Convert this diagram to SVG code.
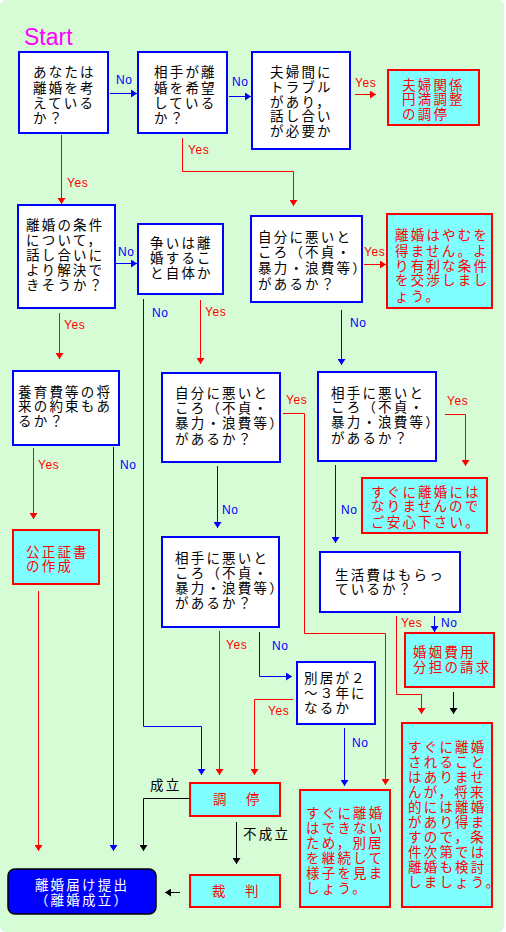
<svg xmlns="http://www.w3.org/2000/svg" width="506" height="932" viewBox="0 0 506 932">
<style>
.bg{fill:#d6fcd6}
text{font-family:"Noto Sans CJK JP","Noto Sans CJK SC",sans-serif;font-size:13.5px;letter-spacing:2.2px}
.q rect{fill:#ffffff;stroke:#0000ff;stroke-width:2}
.q text{fill:#000000}
.a rect{fill:#80ffff;stroke:#ff0000;stroke-width:2}
.a text{fill:#ff0000}
.lbl{font-family:"Liberation Sans",Arial,sans-serif;font-size:12px;letter-spacing:0.6px}
.ly{fill:#ff0000}
.ln{fill:#0000ff}
.lk{fill:#000000}
.c path{fill:none;stroke-width:1}
.c .r{stroke:#ff0000;marker-end:url(#mr)}
.c .b{stroke:#0000ff;marker-end:url(#mb)}
.c .k{stroke:#000000;marker-end:url(#mk)}
</style>
<defs>
<marker id="mr" viewBox="0 0 6 8" refX="6" refY="4" markerWidth="6" markerHeight="8" markerUnits="userSpaceOnUse" orient="auto"><path d="M0,0 L6,4 L0,8 z" fill="#ff0000"/></marker>
<marker id="mb" viewBox="0 0 6 8" refX="6" refY="4" markerWidth="6" markerHeight="8" markerUnits="userSpaceOnUse" orient="auto"><path d="M0,0 L6,4 L0,8 z" fill="#0000ff"/></marker>
<marker id="mk" viewBox="0 0 6 8" refX="6" refY="4" markerWidth="6" markerHeight="8" markerUnits="userSpaceOnUse" orient="auto"><path d="M0,0 L6,4 L0,8 z" fill="#000000"/></marker>
</defs>
<rect x="0" y="0" width="506" height="932" fill="#ffffff"/>
<rect class="bg" x="0" y="0" width="504" height="932" rx="6"/>
<text x="24" y="45" style="font-family:'Liberation Sans',Arial,sans-serif;font-size:23px;letter-spacing:0" fill="#ff00ff">Start</text>

<g id="connectors" class="c">
<path class="b" d="M110,93.5 H137"/>
<path class="b" d="M229,96.5 H251"/>
<path class="b" d="M116,263.5 H137"/>
<path class="b" d="M143.5,299 V726.5 H201.5 V775"/>
<path class="b" d="M341.5,310 V365"/>
<path class="b" d="M113.5,447 V851"/>
<path class="b" d="M217.5,466 V528"/>
<path class="b" d="M335.5,465 V543"/>
<path class="b" d="M434.5,616 V632"/>
<path class="b" d="M259.5,632 V676.5 H292"/>
<path class="b" d="M344.5,728 V786"/>

<path class="r" d="M61.5,135 V204"/>
<path class="r" d="M182.5,138 V171.5 H293.5 V206"/>
<path class="r" d="M355,94.5 H376"/>
<path class="r" d="M59.5,313 V359"/>
<path class="r" d="M200.5,300 V364"/>
<path class="r" d="M364,264.5 H386"/>
<path class="r" d="M33.5,448 V519"/>
<path class="r" d="M38.5,591 V851"/>
<path class="r" d="M283,413.5 H304.5 V633.5 H385.5 V785"/>
<path class="r" d="M445,414.5 H465.5 V466"/>
<path class="r" d="M396.5,616 V694.5 H421.5 V714"/>
<path class="r" d="M219.5,631 V775"/>
<path class="r" d="M293,699.5 H254.5 V775"/>

<path class="k" d="M190,798.5 H143.5 V851"/>
<path class="k" d="M236.5,822 V864"/>
<path class="k" d="M453.5,692 V714"/>
<path class="k" d="M180,892.5 H165"/>

<text class="lbl ln" x="116" y="84">No</text>
<text class="lbl ln" x="232" y="86">No</text>
<text class="lbl ln" x="118" y="256">No</text>
<text class="lbl ln" x="152" y="317">No</text>
<text class="lbl ln" x="350" y="327">No</text>
<text class="lbl ln" x="120" y="469">No</text>
<text class="lbl ln" x="222" y="514">No</text>
<text class="lbl ln" x="341" y="514">No</text>
<text class="lbl ln" x="441" y="627">No</text>
<text class="lbl ln" x="272" y="650">No</text>
<text class="lbl ln" x="352" y="747">No</text>

<text class="lbl ly" x="67" y="187">Yes</text>
<text class="lbl ly" x="188" y="154">Yes</text>
<text class="lbl ly" x="355" y="87">Yes</text>
<text class="lbl ly" x="64" y="329">Yes</text>
<text class="lbl ly" x="205" y="316">Yes</text>
<text class="lbl ly" x="364" y="256">Yes</text>
<text class="lbl ly" x="38" y="469">Yes</text>
<text class="lbl ly" x="286" y="404">Yes</text>
<text class="lbl ly" x="447" y="405">Yes</text>
<text class="lbl ly" x="401" y="627">Yes</text>
<text class="lbl ly" x="226" y="649">Yes</text>
<text class="lbl ly" x="268" y="715">Yes</text>

<text class="lk" x="150" y="790">成立</text>
<text class="lk" x="243" y="839">不成立</text>
</g>

<g id="n1" class="q"><rect x="19" y="52" width="89" height="81"/>
<text x="33" y="77">あなたは<tspan x="33" y="93">離婚を考</tspan><tspan x="33" y="108">えている</tspan><tspan x="33" y="123">か？</tspan></text></g>

<g id="n2" class="q"><rect x="138" y="52" width="89" height="81"/>
<text x="154" y="77">相手が離<tspan x="154" y="93">婚を希望</tspan><tspan x="154" y="108">している</tspan><tspan x="154" y="123">か？</tspan></text></g>

<g id="n3" class="q"><rect x="252" y="52" width="98" height="97"/>
<text x="270" y="77">夫婦間に<tspan x="270" y="92">トラブル</tspan><tspan x="270" y="107">があり，</tspan><tspan x="270" y="121">話し合い</tspan><tspan x="270" y="136">が必要か</tspan></text></g>

<g id="r1" class="a"><rect x="388" y="70" width="91" height="55"/>
<text x="402" y="90">夫婦関係<tspan x="402" y="104">円満調整</tspan><tspan x="402" y="119">の調停</tspan></text></g>

<g id="n4" class="q"><rect x="18" y="205" width="97" height="103"/>
<text x="26" y="230">離婚の条件<tspan x="26" y="245">について，</tspan><tspan x="26" y="260">話し合いに</tspan><tspan x="26" y="275">より解決で</tspan><tspan x="26" y="290">きそうか？</tspan></text></g>

<g id="n5" class="q"><rect x="138" y="224" width="85" height="70"/>
<text x="150" y="248">争いは離<tspan x="150" y="263">婚するこ</tspan><tspan x="150" y="278">と自体か</tspan></text></g>

<g id="n6" class="q"><rect x="251" y="216" width="111" height="86"/>
<text x="258" y="242">自分に悪いと<tspan x="258" y="257">ころ（不貞・</tspan><tspan x="258" y="273">暴力・浪費等）</tspan><tspan x="258" y="289">があるか？</tspan></text></g>

<g id="r2" class="a"><rect x="387" y="214" width="105" height="94"/>
<text x="395" y="240">離婚はやむを<tspan x="395" y="256">得ません。よ</tspan><tspan x="395" y="271">り有利な条件</tspan><tspan x="395" y="285">を交渉しまし</tspan><tspan x="395" y="301">ょう。</tspan></text></g>

<g id="n7" class="q"><rect x="13" y="371" width="106" height="74"/>
<text x="18" y="397">養育費等の将<tspan x="18" y="411">来の約束もあ</tspan><tspan x="18" y="426">るか？</tspan></text></g>

<g id="n8" class="q"><rect x="162" y="373" width="118" height="89"/>
<text x="175" y="398">自分に悪いと<tspan x="175" y="413">ころ（不貞・</tspan><tspan x="175" y="428">暴力・浪費等）</tspan><tspan x="175" y="444">があるか？</tspan></text></g>

<g id="n9" class="q"><rect x="318" y="372" width="118" height="89"/>
<text x="331" y="398">相手に悪いと<tspan x="331" y="412">ころ（不貞・</tspan><tspan x="331" y="427">暴力・浪費等）</tspan><tspan x="331" y="443">があるか？</tspan></text></g>

<g id="r3" class="a"><rect x="362" y="478" width="125" height="55"/>
<text x="371" y="497">すぐに離婚には<tspan x="371" y="511">なりませんので</tspan><tspan x="371" y="527">ご安心下さい。</tspan></text></g>

<g id="r4" class="a"><rect x="13" y="530" width="86" height="54"/>
<text x="26" y="557">公正証書<tspan x="26" y="571">の作成</tspan></text></g>

<g id="n10" class="q"><rect x="320" y="552" width="140" height="60"/>
<text x="335" y="580">生活費はもらっ<tspan x="335" y="594">ているか？</tspan></text></g>

<g id="n11" class="q"><rect x="162" y="537" width="117" height="90"/>
<text x="175" y="563">相手に悪いと<tspan x="175" y="578">ころ（不貞・</tspan><tspan x="175" y="593">暴力・浪費等）</tspan><tspan x="175" y="608">があるか？</tspan></text></g>

<g id="r5" class="a"><rect x="405" y="633" width="89" height="54"/>
<text x="413" y="657">婚姻費用<tspan x="413" y="672">分担の請求</tspan></text></g>

<g id="n12" class="q"><rect x="297" y="662" width="78" height="62"/>
<text x="304" y="683">別居が２<tspan x="304" y="698">～３年に</tspan><tspan x="304" y="713">なるか</tspan></text></g>

<g id="r6" class="a"><rect x="300" y="790" width="90" height="117"/>
<text x="306" y="818">すぐに離婚<tspan x="306" y="833">はできない</tspan><tspan x="306" y="848">ため，別居</tspan><tspan x="306" y="863">を継続して</tspan><tspan x="306" y="878">様子を見ま</tspan><tspan x="306" y="893">しょう。</tspan></text></g>

<g id="r7" class="a"><rect x="402" y="723" width="90" height="184"/>
<text x="408" y="752">すぐに離婚<tspan x="408" y="767">されること</tspan><tspan x="408" y="782">はありませ</tspan><tspan x="408" y="797">んが，将来</tspan><tspan x="408" y="812">的には離婚</tspan><tspan x="408" y="827">があり得ま</tspan><tspan x="408" y="842">すので，条</tspan><tspan x="408" y="857">件次第では</tspan><tspan x="408" y="872">離婚も検討</tspan><tspan x="408" y="887">しましょう。</tspan></text></g>

<g id="chotei" class="a"><rect x="190" y="783" width="90" height="33"/>
<text x="213" y="804">調<tspan x="246" y="804">停</tspan></text></g>

<g id="saiban" class="a"><rect x="190" y="875" width="90" height="32"/>
<text x="212" y="896">裁<tspan x="245" y="896">判</tspan></text></g>

<g id="final"><rect x="8" y="869" width="148" height="45" rx="7" fill="#0000ff" stroke="#000000" stroke-width="1.5"/>
<text x="82" y="890" text-anchor="middle" fill="#ffffff">離婚届け提出<tspan x="82" y="905">（離婚成立）</tspan></text></g>
</svg>
